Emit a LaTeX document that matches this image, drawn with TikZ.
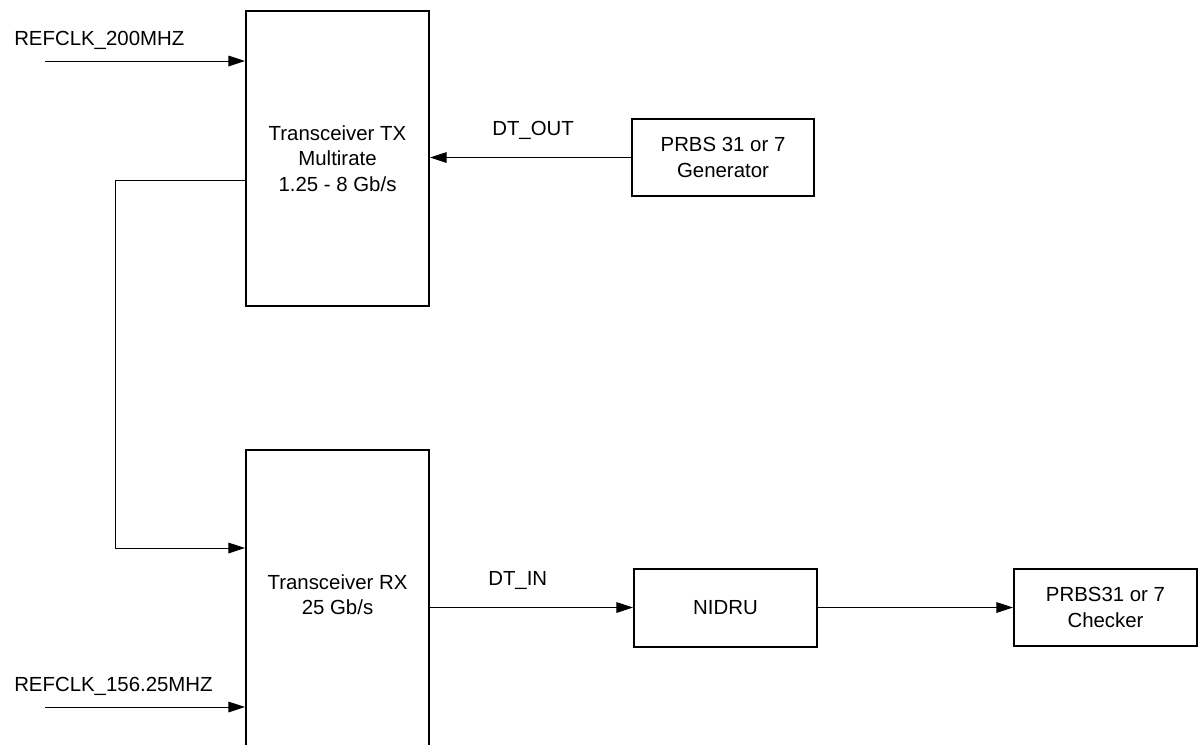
\documentclass[tikz,border=0pt]{standalone}
\usepackage{fontspec}
\setmainfont{Liberation Sans}
\usetikzlibrary{arrows.meta}
\begin{document}
\begin{tikzpicture}[x=0.75pt,y=-0.75pt,
  box/.style={draw,line width=1.5pt,align=center,inner sep=0pt,
    font=\fontsize{15.3}{19}\selectfont},
  lbl/.style={inner sep=0pt,anchor=base west,font=\fontsize{15.3}{19}\selectfont},
  conn/.style={line width=0.75pt,-{Triangle[length=12.5pt,width=8pt]}},
  wire/.style={line width=0.75pt}]
\useasboundingbox (0,0) rectangle (1201,744);
\clip (0,0) rectangle (1201,744);
% boxes
\node[box,minimum width=137.25pt,minimum height=221.25pt] (tx) at (337.5,158.5)
  {Transceiver TX\\Multirate\\1.25 - 8 Gb/s};
\node[box,minimum width=137.25pt,minimum height=232.5pt,text depth=15.5pt] (rx) at (337.5,605)
  {Transceiver RX\\25 Gb/s};
\node[box,minimum width=136.5pt,minimum height=57.75pt] (gen) at (723,157.5)
  {PRBS 31 or 7\\Generator};
\node[box,minimum width=137.25pt,minimum height=58.5pt] (nidru) at (725.5,607.5)
  {NIDRU};
\node[box,minimum width=137.25pt,minimum height=57.75pt] (chk) at (1105.5,607.5)
  {PRBS31 or 7\\Checker};
% labels
\node[lbl] (l1) at (14,45) {REFCLK\_200MHZ};
\node[lbl] (l2) at (14,691) {REFCLK\_156.25MHZ};
\node[lbl] (l3) at (492,135) {DT\_OUT};
\node[lbl] (l4) at (488,585) {DT\_IN};
% coordinates
\coordinate (c1) at (45,61);
\coordinate (c2) at (45,707);
\coordinate (f1) at (115,180);
\coordinate (f2) at (115,548);
% connectors
\draw[conn] (c1) -- (c1 -| tx.west);
\draw[conn] (c2) -- (c2 -| rx.west);
\draw[conn] (gen.west) -- (gen.west -| tx.east);
\draw[wire] (f1 -| tx.west) -- (f1) -- (f2);
\draw[conn] (f2) -- (f2 -| rx.west);
\draw[conn] (rx.east |- nidru.west) -- (nidru.west);
\draw[conn] (nidru.east) -- (chk.west);
\end{tikzpicture}
\end{document}
